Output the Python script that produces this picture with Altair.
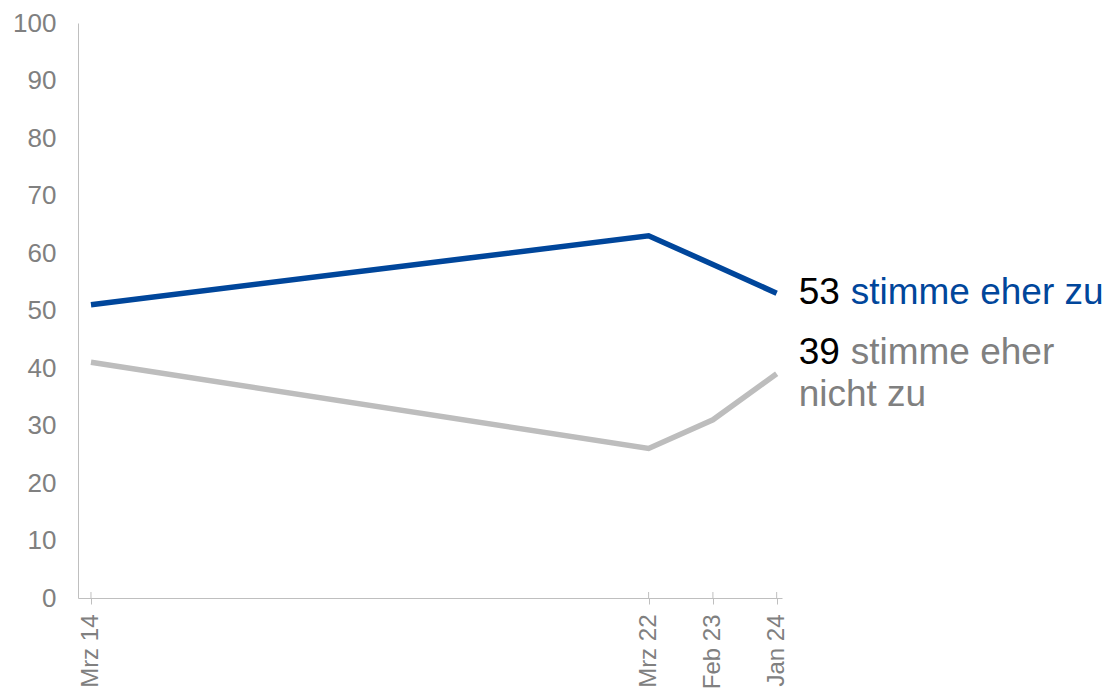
import altair as alt
import pandas as pd

# ---- data ----
dates = ["2014-03-01", "2022-03-01", "2023-02-01", "2024-01-01"]
tick_labels = ["Mrz 14", "Mrz 22", "Feb 23", "Jan 24"]
series_names = ["stimme eher zu", "stimme eher nicht zu"]
zu = [51, 63, 58, 53]
nicht_zu = [41, 26, 31, 39]
label_line1 = ["stimme eher zu", "stimme eher"]
label_line2 = ["", "nicht zu"]
y_ticks = [0, 10, 20, 30, 40, 50, 60, 70, 80, 90, 100]
x_domain = ["2013-12-23", "2024-01-29"]

line_colors = ["#00469b", "#bdbdbd"]
text_colors = ["#00469b", "#808080"]
FONT = "Liberation Sans"

# ---- tables ----
rows = []
for name, vals in zip(series_names, [zu, nicht_zu]):
    for d, v in zip(dates, vals):
        rows.append({"series": name, "date": d, "value": v})
df = pd.DataFrame(rows)

end_rows = []
for i, (name, vals) in enumerate(zip(series_names, [zu, nicht_zu])):
    end_rows.append({"series": name, "date": dates[-1], "value": vals[-1],
                     "num": str(vals[-1]), "line1": label_line1[i], "line2": label_line2[i]})
end_df = pd.DataFrame(end_rows)
ticks_df = pd.DataFrame({"date": dates})


def ms(d):
    return int(pd.Timestamp(d, tz="UTC").timestamp() * 1000)


tick_ms = [ms(d) for d in dates]
label_expr = " : ".join(f"time(datum.value) == {m} ? '{l}'" for m, l in zip(tick_ms, tick_labels)) + " : ''"

x_scale = alt.Scale(type="utc", domain=[ms(x_domain[0]), ms(x_domain[1])])
y_scale = alt.Scale(domain=[0, 100], nice=False)

x_enc = alt.X("date:T", scale=x_scale, title=None,
              axis=alt.Axis(values=tick_ms, labelExpr=label_expr, labelAngle=-90,
                            labelFontSize=24, labelColor="#808080", labelFont=FONT,
                            tickColor="#bfbfbf", tickSize=6, labelPadding=10,
                            domainColor="#bfbfbf", grid=False, labelOverlap=False,
                            labelFlush=False))
y_enc = alt.Y("value:Q", scale=y_scale, title=None,
              axis=alt.Axis(values=y_ticks, ticks=False, grid=False, labelFontSize=26,
                            labelColor="#808080", labelFont=FONT, labelPadding=22,
                            domainColor="#bfbfbf"))

lines = alt.Chart(df).mark_line(strokeWidth=5.5, strokeCap="butt").encode(
    x=x_enc, y=y_enc,
    color=alt.Color("series:N", scale=alt.Scale(domain=series_names, range=line_colors), legend=None),
)

inner_ticks = alt.Chart(ticks_df).mark_rule(color="#bfbfbf", strokeWidth=1).encode(
    x=alt.X("date:T", scale=x_scale), y=alt.value(569), y2=alt.value(575)
)

x_t = alt.X("date:T", scale=x_scale)
y_t = alt.Y("value:Q", scale=y_scale)

def txt(series, text_field, color, dx, dy):
    return alt.Chart(end_df).transform_filter(
        alt.datum.series == series
    ).mark_text(align="left", baseline="middle", dx=dx, dy=dy, fontSize=37,
                font=FONT, color=color).encode(x=x_t, y=y_t, text=f"{text_field}:N")

texts = [
    txt(series_names[0], "num", "#000000", 22, 0),
    txt(series_names[0], "line1", text_colors[0], 74, 0),
    txt(series_names[1], "num", "#000000", 22, -21),
    txt(series_names[1], "line1", text_colors[1], 74, -21),
    txt(series_names[1], "line2", text_colors[1], 22, 21),
]

chart = alt.layer(inner_ticks, lines, *texts).properties(
    width=704, height=575,
    autosize=alt.AutoSizeParams(type="none"),
    padding={"left": 70, "top": 15, "right": 322, "bottom": 92},
).configure_view(stroke=None)

chart.save("out.html", embed_options={"renderer": "svg", "actions": False})
